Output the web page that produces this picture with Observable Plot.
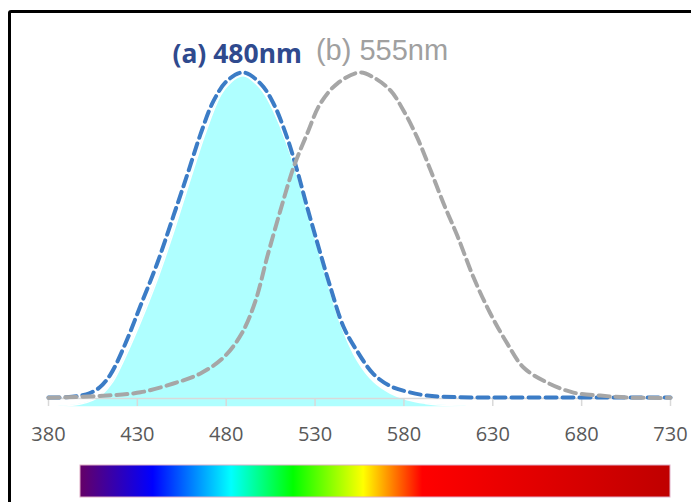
<!DOCTYPE html>
<html>
<head>
<meta charset="utf-8">
<script src="https://cdn.jsdelivr.net/npm/d3@7"></script>
<script src="https://cdn.jsdelivr.net/npm/@observablehq/plot@0.6"></script>
<style>
  html, body { margin: 0; padding: 0; background: #fff; }
  #wrap { position: relative; width: 691px; height: 502px; overflow: hidden; background: #fff; }
  #frame { position: absolute; left: 8px; top: 10px; width: 1000px; height: 1000px; border: 3px solid #000; border-radius: 3px; pointer-events: none; }
  #chart { position: absolute; left: 0; top: 0; }
</style>
</head>
<body>
<div id="wrap"><div id="chart"></div><div id="frame"></div></div>
<script>
// Wavelength ticks
const ticks = [380, 430, 480, 530, 580, 630, 680, 730];

// (a) 480nm curve (dashed blue)
const blueNm  = [380, 390, 397, 403, 409, 415, 423, 431.8, 441.2, 450.3, 458, 465.5, 472.8, 480.6, 489.5, 499.3, 506.6, 514.3, 519.9, 525.6, 533, 538.7, 546, 553.7, 562.9, 572.4, 581.8, 593, 610, 650, 730];
const blueVal = [0.003, 0.004, 0.008, 0.016, 0.035, 0.075, 0.165, 0.285, 0.415, 0.56, 0.685, 0.81, 0.912, 0.975, 1.0, 0.966, 0.905, 0.80, 0.70, 0.586, 0.445, 0.34, 0.22, 0.145, 0.075, 0.038, 0.021, 0.009, 0.004, 0.003, 0.003];

// (b) 555nm curve (dashed gray)
const grayNm  = [380, 413, 431.8, 450.3, 465.5, 478.5, 488.8, 496.5, 503, 510.5, 517.9, 525.6, 533, 542.5, 555, 562.9, 572.4, 579.8, 587.5, 595, 602.3, 610, 619.2, 628.7, 638.1, 647.3, 660.6, 675.4, 690.6, 705.6, 730];
const grayVal = [0.002, 0.009, 0.019, 0.046, 0.077, 0.126, 0.20, 0.30, 0.433, 0.577, 0.709, 0.813, 0.905, 0.966, 1.0, 0.985, 0.945, 0.883, 0.80, 0.70, 0.598, 0.50, 0.371, 0.26, 0.169, 0.095, 0.049, 0.018, 0.009, 0.003, 0.002];

// Cyan filled area
const fillNm  = [380, 390, 398, 405, 410, 416, 423, 431.8, 441.2, 450.3, 459.9, 469.3, 478.5, 489.5, 499.3, 506.6, 516.2, 525.6, 534.8, 544.3, 553.7, 562.9, 572.4, 581.8, 592, 602, 612, 630];
const fillVal = [-0.025, -0.023, -0.017, -0.005, 0.012, 0.05, 0.125, 0.235, 0.365, 0.51, 0.675, 0.83, 0.945, 0.99, 0.951, 0.883, 0.75, 0.577, 0.402, 0.23, 0.117, 0.052, 0.016, -0.004, -0.015, -0.021, -0.024, -0.025];
const fillBase = -0.025;

// Labels
const labelText = ["(a) 480nm", "(b) 555nm"];
const labelNm   = [522.5, 530.5];
const labelVal  = [1.055, 1.068];

// Spectrum colour bar
const barNm = [398, 730];
const barVal = [-0.2055, -0.3037];
const stopOffsets = [0, 0.123, 0.256, 0.361, 0.48, 0.58, 1];
const stopColors  = ["#650066", "#0000ff", "#00ffff", "#00ff00", "#ffff00", "#ff0000", "#bf0000"];

const blue = blueNm.map((x, i) => ({x, y: blueVal[i]}));
const gray = grayNm.map((x, i) => ({x, y: grayVal[i]}));
const fill = fillNm.map((x, i) => ({x, y: fillVal[i]}));
const labels = labelText.map((t, i) => ({t, x: labelNm[i], y: labelVal[i]}));

const plot = Plot.plot({
  width: 691,
  height: 502,
  marginLeft: 48,
  marginRight: 21,
  marginTop: 72,
  marginBottom: 104,
  style: {background: "transparent", fontFamily: "'Open Sans', sans-serif"},
  x: {domain: [380, 730]},
  y: {domain: [0, 1], axis: null},
  marks: [
    Plot.areaY(fill, {x: "x", y1: () => fillBase, y2: "y", fill: "#afffff", curve: "catmull-rom"}),
    Plot.line(fill, {x: "x", y: "y", stroke: "#ffffff", strokeWidth: 1.5, curve: "catmull-rom"}),
    Plot.ruleY([0], {stroke: "#d9d9d9", strokeWidth: 1.5}),
    Plot.axisX({ticks, tickFormat: d => String(d), tickSize: 8, tickPadding: 20, stroke: "#d9d9d9", strokeWidth: 1.5, fill: "#595959", fontSize: 20, label: null}),
    Plot.line(blue, {x: "x", y: "y", stroke: "#3b7cc6", strokeWidth: 4, strokeDasharray: "11,6", curve: "catmull-rom"}),
    Plot.line(gray, {x: "x", y: "y", stroke: "#a6a6a6", strokeWidth: 4, strokeDasharray: "11,6", curve: "catmull-rom"}),
    Plot.text([labels[0]], {x: "x", y: "y", text: "t", textAnchor: "end", fill: "#2f4a8e", fontWeight: "bold", fontSize: 26.5, fontFamily: "'Noto Sans', sans-serif"}),
    Plot.text([labels[1]], {x: "x", y: "y", text: "t", textAnchor: "start", fill: "#a0a0a0", fontSize: 29, fontFamily: "'Liberation Sans', Arial, sans-serif"}),
    Plot.rect([0], {x1: () => barNm[0], x2: () => barNm[1], y1: () => barVal[0], y2: () => barVal[1], fill: "url(#spectrum)", stroke: "#e0b0c8", strokeWidth: 1})
  ]
});

const svg = d3.select(plot);
const grad = svg.insert("defs", ":first-child").append("linearGradient")
  .attr("id", "spectrum").attr("x1", "0%").attr("x2", "100%").attr("y1", "0%").attr("y2", "0%");
stopOffsets.forEach((o, i) => grad.append("stop").attr("offset", o).attr("stop-color", stopColors[i]));

document.getElementById("chart").appendChild(plot);
</script>
</body>
</html>
